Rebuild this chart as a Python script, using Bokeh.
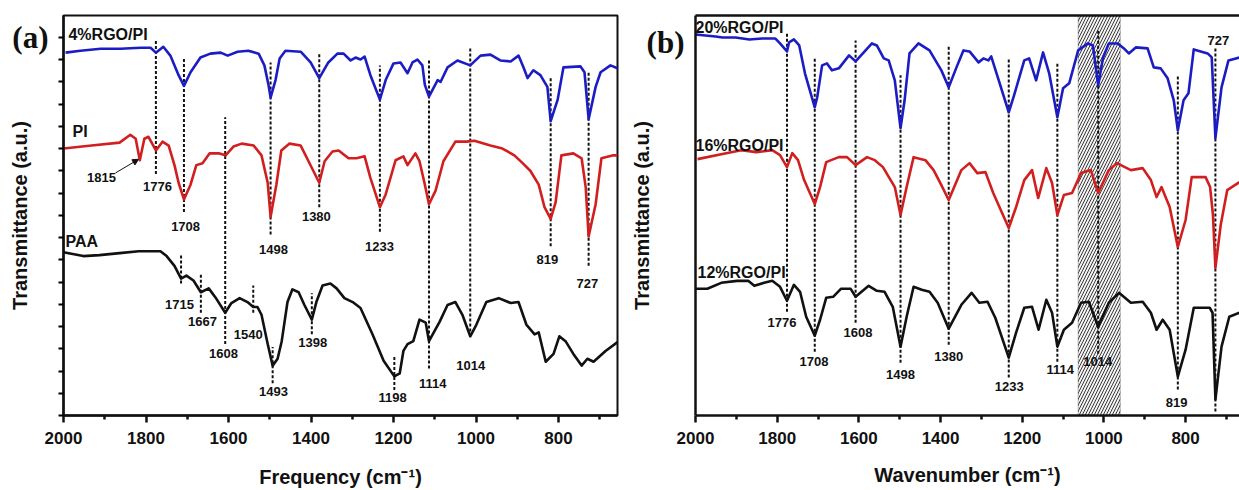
from bokeh.plotting import figure
from bokeh.layouts import row
from bokeh.models import (Range1d, FixedTicker, LinearAxis, Arrow,
                          NormalHead, BoxAnnotation)
from bokeh.embed import file_html
from bokeh.resources import INLINE
from bokeh.core.properties import value

# ---------------- Panel (a) data ----------------
wn_a4 = [1995,1959,1910,1862,1813,1789,1776,1758,1741,1721,1708,1692,1668,1644,1619,1602,1578,1552,1527,1513,
         1503,1498,1486,1476,1462,1425,1401,1380,1358,1336,1321,1304,1292,1280,1270,1256,1233,1219,1200,1183,
         1166,1154,1142,1130,1124,1114,1093,1086,1069,1045,1014,989,965,941,916,897,885,875,861,844,
         827,819,802,788,747,737,727,710,698,674,657]
t_a4 = [371,373,375,375,376,376,371,377,368,348,337,351,366,370,371,368,372,373,370,358,
        338,325,343,365,373,372,361,345,361,370,370,363,366,364,367,348,323,343,360,361,
        350,361,364,358,338,326,343,341,356,363,358,368,369,363,362,368,356,345,353,348,
        336,301,323,356,357,351,303,336,351,358,355]

wn_pi = [2000,1932,1864,1838,1825,1815,1804,1794,1776,1760,1745,1731,1721,1708,1692,1678,1663,1646,1622,1607,
         1588,1568,1539,1520,1505,1498,1484,1472,1452,1425,1406,1380,1367,1348,1333,1309,1290,1270,1256,1233,
         1219,1195,1176,1166,1147,1137,1125,1114,1098,1079,1050,1023,1004,965,936,907,887,868,848,834,
         819,807,793,764,744,734,727,710,696,667,657]
t_pi = [273,276,279,287,283,261,283,285,271,280,276,256,238,221,236,256,258,268,268,266,
        275,278,276,266,238,203,236,271,278,276,260,238,260,270,271,263,263,265,243,213,
        226,261,265,256,268,260,238,216,230,260,280,280,281,276,273,266,258,250,236,213,
        201,218,266,268,263,233,183,216,263,266,266]

wn_paa = [2000,1952,1913,1864,1818,1765,1750,1731,1715,1702,1685,1667,1648,1632,1608,1593,1573,1554,1540,1530,
          1520,1505,1493,1481,1471,1457,1445,1430,1416,1398,1387,1372,1353,1338,1319,1299,1280,1251,1224,1198,
          1185,1176,1166,1152,1137,1122,1114,1088,1069,1050,1033,1014,999,975,945,916,897,878,858,848,
          831,812,798,783,764,744,730,715,686,657]
t_paa = [167,163,164,166,168,168,163,153,140,143,138,126,130,121,105,115,120,116,111,111,
         103,73,51,58,76,116,129,126,113,98,116,133,135,130,120,116,110,83,56,40,
         43,66,73,76,98,95,76,96,113,116,103,81,93,116,120,115,116,93,83,85,
         55,63,81,76,63,51,58,55,66,75]

# dashed peak markers (a)
dash_a_wn = [1776,1708,1608,1498,1380,1233,1114,1014,819,727,1715,1667,1540,1398,1493,1198]
dash_a_top = [385,365,305,361,371,358,365,376,346,351,165,145,133,125,70,60]
dash_a_bot = [247,208,73,185,213,188,48,86,173,153,135,105,105,83,33,26]

# peak labels (a)
lab_a_text = ["1815","1776","1708","1380","1498","1233","819","727",
              "1715","1667","1608","1540","1398","1493","1198","1114","1014"]
lab_a_x = [1908,1772,1704,1387,1491,1234,827,730,1719,1663,1612,1552,1396,1491,1202,1105,1013]
lab_a_y = [243,234,193,203,170,173,160,135,114,96,63,83,75,25,18,33,51]

series_a_text = ["4%RGO/PI","PI","PAA"]
series_a_x = [1988,1978,1995]
series_a_y = [390,290,178]

# ---------------- Panel (b) data ----------------
wn_b20 = [2000,1951,1934,1902,1868,1837,1805,1793,1776,1771,1759,1746,1732,1708,1702,1690,1678,1666,1649,1624,
          1608,1568,1556,1539,1527,1512,1498,1488,1476,1454,1427,1398,1380,1361,1344,1329,1307,1295,1283,1276,
          1259,1233,1220,1195,1183,1166,1149,1134,1114,1100,1085,1063,1039,1027,1014,1002,988,966,951,939,
          922,893,878,861,844,829,819,805,793,780,746,736,727,712,695,668]
t_b20 = [382,380,379,379,377,378,378,373,365,374,377,371,343,309,319,351,353,346,348,361,
         355,373,371,358,356,336,288,316,363,373,366,346,329,349,366,365,354,358,356,360,
         338,304,321,356,358,336,364,343,299,328,333,366,373,371,331,359,373,373,368,363,
         369,368,349,348,338,316,286,316,323,367,363,359,278,329,356,359]

wn_b16 = [1995,1937,1888,1851,1812,1793,1776,1763,1749,1734,1708,1695,1680,1668,1649,1629,1608,1580,1561,1541,
          1512,1498,1483,1466,1437,1417,1398,1380,1349,1329,1310,1290,1271,1233,1215,1195,1176,1161,1141,1127,
          1114,1098,1078,1056,1032,1014,988,968,934,905,885,871,859,839,819,800,785,751,740,733,
          727,714,698,668]
t_b16 = [257,262,266,264,266,261,249,263,256,236,212,229,254,256,259,259,251,259,256,249,
         229,201,229,259,256,246,231,216,246,253,243,244,223,188,209,236,246,218,248,233,
         201,221,223,243,246,223,246,253,246,248,236,219,229,209,169,196,239,239,229,201,
         148,191,226,234]

wn_b12 = [2000,1971,1937,1898,1871,1856,1832,1812,1793,1776,1759,1744,1729,1708,1695,1680,1663,1644,1620,1608,
          1576,1556,1537,1517,1498,1483,1466,1446,1427,1407,1380,1349,1324,1305,1285,1266,1233,1215,1195,1176,
          1160,1141,1127,1114,1098,1078,1056,1037,1014,988,963,934,905,885,871,856,839,819,800,780,
          741,734,727,712,693,668]
t_b12 = [127,127,133,135,135,130,133,135,129,115,131,124,99,80,96,118,119,127,127,119,
         130,125,124,109,69,99,129,126,124,113,87,111,123,113,114,98,58,83,108,109,
         86,116,103,69,86,93,113,114,89,113,123,113,114,103,86,96,86,39,66,108,
         108,103,16,69,99,103]

dash_b_wn = [1776,1708,1608,1498,1380,1233,1114,1014,819,727]
dash_b_top = [383,358,376,341,371,357,354,386,341,369]
dash_b_bot = [104,64,93,53,71,38,54,62,26,4]

lab_b_text = ["1776","1708","1608","1498","1380","1233","1114","1014","819","727"]
lab_b_x = [1788,1710,1602,1498,1380,1232,1107,1015,822,720]
lab_b_y = [93,54,83,41,59,29,46,54,13,376]

series_b_text = ["20%RGO/PI","16%RGO/PI","12%RGO/PI"]
series_b_x = [2000,2000,1995]
series_b_y = [389,271,143]

hatch_band = (960, 1063)

x_major = [2000,1800,1600,1400,1200,1000,800]
x_minor = [1900,1700,1500,1300,1100,900,700]
y_ticks_a = [22.75 * i for i in range(18)]
panel_tag_a = "(a)"
panel_tag_b = "(b)"
panel_tag_b_y = 374

BLUE = "#1c1cc4"
RED = "#d11f1f"
BLACK = "#111111"
FONT = "Liberation Sans"


def style_x(ax, title, standoff):
    ax.ticker = FixedTicker(ticks=x_major, minor_ticks=x_minor)
    ax.axis_label = title
    ax.axis_label_text_font = FONT
    ax.axis_label_text_font_style = "bold"
    ax.axis_label_text_font_size = "20px"
    ax.axis_label_text_color = BLACK
    ax.axis_label_standoff = standoff
    ax.major_label_text_font = FONT
    ax.major_label_text_font_style = "bold"
    ax.major_label_text_font_size = "17px"
    ax.major_label_text_color = BLACK
    ax.major_label_standoff = 9
    ax.axis_line_width = 2.5
    ax.axis_line_color = BLACK
    ax.major_tick_line_width = 2.5
    ax.minor_tick_line_width = 2.5
    ax.major_tick_line_color = BLACK
    ax.minor_tick_line_color = BLACK
    ax.major_tick_out = 7
    ax.major_tick_in = 0
    ax.minor_tick_out = 4
    ax.minor_tick_in = 0


def style_y(ax, ticks, tag_tick, tag, label_standoff, standoff, tick_out):
    # the panel tag "(a)"/"(b)" is drawn as the single visible tick label of the left axis
    ax.ticker = FixedTicker(ticks=ticks, minor_ticks=[])
    overrides = {t: "" for t in ticks}
    overrides[tag_tick] = tag
    ax.major_label_overrides = overrides
    ax.major_label_text_font = "Liberation Serif"
    ax.major_label_text_font_style = "bold"
    ax.major_label_text_font_size = "31px"
    ax.major_label_text_color = BLACK
    ax.major_label_standoff = label_standoff
    ax.axis_label = "Transmittance (a.u.)"
    ax.axis_label_text_font = FONT
    ax.axis_label_text_font_style = "bold"
    ax.axis_label_text_font_size = "20px"
    ax.axis_label_text_color = BLACK
    ax.axis_label_standoff = standoff
    ax.axis_line_width = 2.5
    ax.axis_line_color = BLACK
    ax.major_tick_line_width = 2
    ax.major_tick_out = tick_out
    ax.major_tick_in = 0
    ax.minor_tick_out = 0
    ax.minor_tick_in = 0


def add_text(p, xs, ys, texts, size, align):
    p.text(x=xs, y=ys, text=texts, text_align=align, text_baseline="middle",
           text_font=value(FONT), text_font_style="bold", text_font_size=size,
           text_color=BLACK)


# ---------------- Figure (a) ----------------
pa = figure(width=627, height=490, x_range=Range1d(2000, 657), y_range=Range1d(0, 409),
            output_backend="svg", toolbar_location=None,
            min_border_left=63, min_border_right=10, min_border_top=14, min_border_bottom=67)
pa.grid.visible = False
pa.outline_line_color = BLACK
pa.outline_line_width = 2
pa.background_fill_color = "white"
style_x(pa.xaxis[0], "Frequency (cm\u207b\u00b9)", 19)
style_y(pa.yaxis[0], y_ticks_a, y_ticks_a[17], panel_tag_a, 10, -22, 5)

pa.segment(x0=dash_a_wn, y0=dash_a_bot, x1=dash_a_wn, y1=dash_a_top,
           line_color=BLACK, line_width=2, line_dash="3 2")
pa.line(wn_paa, t_paa, line_color=BLACK, line_width=2.6, line_join="round")
pa.line(wn_pi, t_pi, line_color=RED, line_width=2.6, line_join="round")
pa.line(wn_a4, t_a4, line_color=BLUE, line_width=2.6, line_join="round")
add_text(pa, lab_a_x, lab_a_y, lab_a_text, "13px", "center")
add_text(pa, series_a_x, series_a_y, series_a_text, "16px", "left")
pa.add_layout(Arrow(end=NormalHead(size=6, fill_color=BLACK, line_color=BLACK),
                    x_start=1874, y_start=248, x_end=1818, y_end=262,
                    line_color=BLACK, line_width=1))

# ---------------- Figure (b) ----------------
pb = figure(width=612, height=490, x_range=Range1d(2000, 668), y_range=Range1d(0, 401),
            output_backend="svg", toolbar_location=None,
            min_border_left=66, min_border_right=0, min_border_top=15, min_border_bottom=74)
pb.grid.visible = False
pb.outline_line_color = None
style_x(pb.xaxis[0], "Wavenumber (cm\u207b\u00b9)", 17)
style_y(pb.yaxis[0], [panel_tag_b_y], panel_tag_b_y, panel_tag_b, 11, -9, 0)
top_axis = LinearAxis(ticker=FixedTicker(ticks=[], minor_ticks=[]),
                      major_label_text_font_size="0px", axis_line_width=2.5,
                      axis_line_color=BLACK, major_tick_out=0, major_tick_in=0,
                      minor_tick_out=0, minor_tick_in=0, major_label_standoff=0)
pb.add_layout(top_axis, "above")

pb.add_layout(BoxAnnotation(left=hatch_band[0], right=hatch_band[1], level="underlay",
                            fill_color="#f2f2f2", fill_alpha=1.0,
                            hatch_pattern="/", hatch_scale=6, hatch_weight=1,
                            hatch_color="#3a3a3a", line_color=BLACK, line_width=1))
pb.segment(x0=dash_b_wn, y0=dash_b_bot, x1=dash_b_wn, y1=dash_b_top,
           line_color=BLACK, line_width=2, line_dash="3 2")
pb.line(wn_b12, t_b12, line_color=BLACK, line_width=2.6, line_join="round")
pb.line(wn_b16, t_b16, line_color=RED, line_width=2.6, line_join="round")
pb.line(wn_b20, t_b20, line_color=BLUE, line_width=2.6, line_join="round")
add_text(pb, lab_b_x, lab_b_y, lab_b_text, "13px", "center")
add_text(pb, series_b_x, series_b_y, series_b_text, "16px", "left")

layout = row(pa, pb)
open("out.html", "w").write(file_html(layout, INLINE))
